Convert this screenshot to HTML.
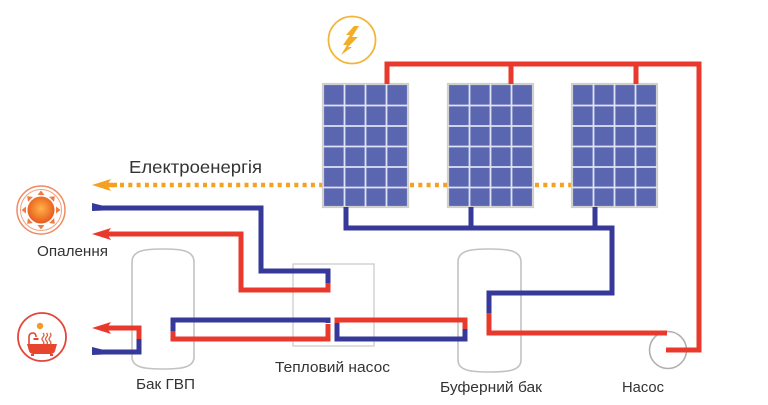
<!DOCTYPE html>
<html><head><meta charset="utf-8">
<style>
html,body{margin:0;padding:0;background:#fff;}
svg{display:block;}
text{font-family:"Liberation Sans",Arial,sans-serif;fill:#333;}
</style></head>
<body>
<svg width="768" height="405" viewBox="0 0 768 405" xmlns="http://www.w3.org/2000/svg">
<defs>
  <radialGradient id="sun" cx="50%" cy="45%" r="55%">
    <stop offset="0" stop-color="#ffb347"/>
    <stop offset="1" stop-color="#e8581c"/>
  </radialGradient>
  <g id="panel">
    <rect x="0" y="0" width="85" height="123" fill="#5a66b0" stroke="#cfcfcf" stroke-width="2.2"/>
    <g stroke="#dfe3f4" stroke-width="1.8">
      <line x1="21.5" y1="0" x2="21.5" y2="123"/>
      <line x1="42.5" y1="0" x2="42.5" y2="123"/>
      <line x1="63.5" y1="0" x2="63.5" y2="123"/>
      <line x1="0" y1="21.5" x2="85" y2="21.5"/>
      <line x1="0" y1="42" x2="85" y2="42"/>
      <line x1="0" y1="62.5" x2="85" y2="62.5"/>
      <line x1="0" y1="83" x2="85" y2="83"/>
      <line x1="0" y1="103.5" x2="85" y2="103.5"/>
    </g>
  </g>
</defs>

<!-- tanks -->
<path d="M132 262 C132 250 146 249 163 249 C180 249 194 250 194 262 V357 C194 368 180 369 163 369 C146 369 132 368 132 357 Z" fill="none" stroke="#c2c2c2" stroke-width="1.6"/>
<path d="M458 262 C458 250 472 249 489.5 249 C507 249 521 250 521 262 V360 C521 371 507 372 489.5 372 C472 372 458 371 458 360 Z" fill="none" stroke="#c2c2c2" stroke-width="1.6"/>

<!-- heat pump box -->
<rect x="293" y="264" width="81" height="82" fill="none" stroke="#cccccc" stroke-width="1.3"/>

<!-- pump -->
<circle cx="668" cy="350" r="18.5" fill="none" stroke="#b0b0b0" stroke-width="1.6"/>

<!-- orange dotted electricity line -->
<g stroke="#f5a01f" stroke-width="4.5" fill="none">
  <line x1="106" y1="185" x2="117" y2="185"/>
  <line x1="120" y1="185" x2="322" y2="185" stroke-dasharray="4 4.3"/>
  <line x1="410" y1="185" x2="447" y2="185" stroke-dasharray="4 4.3"/>
  <line x1="535" y1="185" x2="571" y2="185" stroke-dasharray="4 4.3"/>
</g>
<polygon points="92,185 111,179 107,185 111,191" fill="#f5a01f"/>

<!-- panels -->
<use href="#panel" x="323" y="84"/>
<use href="#panel" x="448" y="84"/>
<use href="#panel" x="572" y="84"/>

<!-- red pipes -->
<g stroke="#e8392c" stroke-width="5" fill="none" stroke-linejoin="miter" stroke-linecap="butt">
  <path d="M387 84 V64 H699 V350 H666"/>
  <line x1="511" y1="64" x2="511" y2="84"/>
  <line x1="636" y1="64" x2="636" y2="84"/>
  <path d="M667 333 H489 V312"/>
  <path d="M328 281 V290 H241 V234 H106"/>
  <path d="M173 330 V339 H328 V324"/>
  <path d="M337 324 V320 H465 V330"/>
  <path d="M106 328 H139 V340"/>
</g>
<!-- blue pipes -->
<g stroke="#36399a" stroke-width="5" fill="none" stroke-linejoin="miter" stroke-linecap="butt">
  <path d="M489 313 V293 H612 V228 H346 V207"/>
  <line x1="471" y1="207" x2="471" y2="228"/>
  <line x1="595" y1="207" x2="595" y2="228"/>
  <path d="M100 208 H261 V271 H328 V283"/>
  <path d="M173 331 V320 H328 V323"/>
  <path d="M337 323 V339 H465 V329"/>
  <path d="M139 339 V352 H100"/>
</g>
<!-- arrow heads / tails -->
<polygon points="92,234 111,228 107,234 111,240" fill="#e8392c"/>
<polygon points="92,328 111,322 107,328 111,334" fill="#e8392c"/>
<polygon points="92,203 104,206 104,210.5 92,211" fill="#36399a"/>
<polygon points="92,347 104,350 104,354.5 92,355" fill="#36399a"/>

<!-- lightning icon -->
<circle cx="352" cy="40" r="23.5" fill="none" stroke="#f2b63a" stroke-width="1.8"/>
<path d="M359 26 L352 37 L358 37 L348 47 L352 47 L341 55 L347 45 L343 45 L350 35 L346 35 L354 26 Z" fill="#f2ae26"/>

<!-- heating icon -->
<circle cx="41" cy="210" r="24" fill="none" stroke="#f08a60" stroke-width="1.5"/>
<circle cx="41" cy="210" r="20.5" fill="none" stroke="#f3a080" stroke-width="1"/>
<circle cx="41" cy="210" r="13.5" fill="url(#sun)"/>
<g fill="#f07a40" transform="translate(41 210)">
  <polygon points="-3.5,-15 3.5,-15 0,-19.5"/>
  <polygon points="-3.5,-15 3.5,-15 0,-19.5" transform="rotate(45)"/>
  <polygon points="-3.5,-15 3.5,-15 0,-19.5" transform="rotate(90)"/>
  <polygon points="-3.5,-15 3.5,-15 0,-19.5" transform="rotate(135)"/>
  <polygon points="-3.5,-15 3.5,-15 0,-19.5" transform="rotate(180)"/>
  <polygon points="-3.5,-15 3.5,-15 0,-19.5" transform="rotate(225)"/>
  <polygon points="-3.5,-15 3.5,-15 0,-19.5" transform="rotate(270)"/>
  <polygon points="-3.5,-15 3.5,-15 0,-19.5" transform="rotate(315)"/>
</g>

<!-- hot water icon -->
<circle cx="42" cy="337" r="24" fill="none" stroke="#e4453a" stroke-width="1.8"/>
<circle cx="40" cy="326" r="3.2" fill="#f59a2a"/>
<path d="M27 344 H57 L55 351 Q54 354 50 354 H34 Q30 354 29 351 Z" fill="#e8452e"/>
<rect x="31" y="354" width="3" height="2" fill="#e8452e"/>
<rect x="50" y="354" width="3" height="2" fill="#e8452e"/>
<path d="M29 344 V337 Q29 333 33 333 Q36 333 36 337" fill="none" stroke="#e8452e" stroke-width="1.6"/>
<path d="M33.5 339 H38.5" stroke="#e8452e" stroke-width="2"/>
<g fill="none" stroke="#e06040" stroke-width="1.3">
  <path d="M43 333 q2 2 0 4 q-2 2 0 4 q2 2 0 3"/>
  <path d="M46.5 333 q2 2 0 4 q-2 2 0 4 q2 2 0 3"/>
  <path d="M50 333 q2 2 0 4 q-2 2 0 4 q2 2 0 3"/>
</g>

<!-- labels -->
<text x="129" y="173" font-size="17.5" textLength="133" lengthAdjust="spacingAndGlyphs">Електроенергія</text>
<text x="37" y="256" font-size="15" textLength="71" lengthAdjust="spacingAndGlyphs">Опалення</text>
<text x="136" y="389" font-size="15" textLength="59" lengthAdjust="spacingAndGlyphs">Бак ГВП</text>
<text x="275" y="372" font-size="15" textLength="115" lengthAdjust="spacingAndGlyphs">Тепловий насос</text>
<text x="440" y="392" font-size="15" textLength="102" lengthAdjust="spacingAndGlyphs">Буферний бак</text>
<text x="622" y="392" font-size="15" textLength="42" lengthAdjust="spacingAndGlyphs">Насос</text>
</svg>
</body></html>
